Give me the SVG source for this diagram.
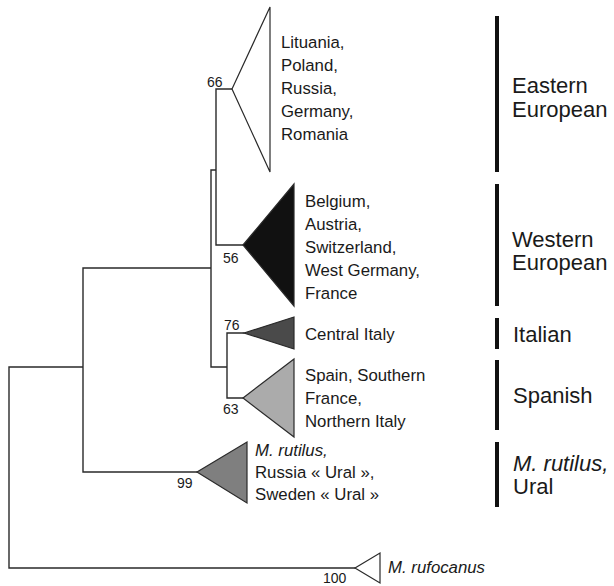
<svg xmlns="http://www.w3.org/2000/svg" width="614" height="586" viewBox="0 0 614 586">
<style>
.br{fill:none;stroke:#2a2a2a;stroke-width:1.4;stroke-linecap:square}
.tri{stroke:#2a2a2a;stroke-width:1.2;stroke-linejoin:miter}
.leaf{font-family:"Liberation Sans",Arial,sans-serif;font-size:16.8px;fill:#1a1a1a}
.grp{font-family:"Liberation Sans",Arial,sans-serif;font-size:22px;fill:#1a1a1a}
.bs{font-family:"Liberation Sans",Arial,sans-serif;font-size:14px;fill:#1a1a1a}
.bar{fill:#111}
.it{font-style:italic}
</style>
<rect width="614" height="586" fill="#fff"/>
<g id="connectors">
<path class="br" d="M9,367V568M9,367H83M9,568H355M83,268V472M83,268H211M83,472H197M211,170V367M211,170H216M211,367H227M216,89V245M216,89H232M216,245H243M227,333V398M227,333H244M227,398H243"/>
</g>
<g id="eastern">
<polygon class="tri" points="232,89 270,7 270,172" fill="#fff"/>
<text class="bs" x="207" y="87">66</text>
<text class="leaf"><tspan x="281" y="48">Lituania,</tspan><tspan x="281" y="71">Poland,</tspan><tspan x="281" y="94">Russia,</tspan><tspan x="281" y="117">Germany,</tspan><tspan x="281" y="140">Romania</tspan></text>
</g>
<g id="western">
<polygon class="tri" points="243,245 294,184 294,306" fill="#111"/>
<text class="bs" x="223" y="263">56</text>
<text class="leaf"><tspan x="305" y="207">Belgium,</tspan><tspan x="305" y="230">Austria,</tspan><tspan x="305" y="253">Switzerland,</tspan><tspan x="305" y="276">West Germany,</tspan><tspan x="305" y="299">France</tspan></text>
</g>
<g id="italian">
<polygon class="tri" points="244,333 294,317 294,349" fill="#4a4a4a"/>
<text class="bs" x="224" y="330">76</text>
<text class="leaf" x="305" y="340">Central Italy</text>
</g>
<g id="spanish">
<polygon class="tri" points="243,398 294,359 294,437" fill="#ababab"/>
<text class="bs" x="223" y="414">63</text>
<text class="leaf"><tspan x="305" y="381">Spain, Southern</tspan><tspan x="305" y="404">France,</tspan><tspan x="305" y="427">Northern Italy</tspan></text>
</g>
<g id="ural">
<polygon class="tri" points="197,472 247,442 247,503" fill="#7f7f7f"/>
<text class="bs" x="177" y="488">99</text>
<text class="leaf"><tspan class="it" x="255" y="456">M. rutilus,</tspan><tspan x="255" y="478">Russia « Ural »,</tspan><tspan x="255" y="500">Sweden « Ural »</tspan></text>
</g>
<g id="rufocanus">
<polygon class="tri" points="355,568 380,553 380,583" fill="#fff"/>
<text class="bs" x="323" y="583">100</text>
<text class="leaf it" x="388" y="573">M. rufocanus</text>
</g>
<g id="groups">
<rect class="bar" x="495" y="16" width="4" height="156"/>
<text class="grp"><tspan x="512" y="93">Eastern</tspan><tspan x="512" y="117">European</tspan></text>
<rect class="bar" x="495" y="184" width="4" height="122"/>
<text class="grp"><tspan x="512" y="247">Western</tspan><tspan x="512" y="270">European</tspan></text>
<rect class="bar" x="495" y="318" width="4" height="31"/>
<text class="grp" x="513" y="342">Italian</text>
<rect class="bar" x="495" y="360" width="4" height="70"/>
<text class="grp" x="513" y="403">Spanish</text>
<rect class="bar" x="495" y="442" width="4" height="65"/>
<text class="grp"><tspan class="it" x="513" y="471">M. rutilus,</tspan><tspan x="513" y="494">Ural</tspan></text>
</g>
</svg>
